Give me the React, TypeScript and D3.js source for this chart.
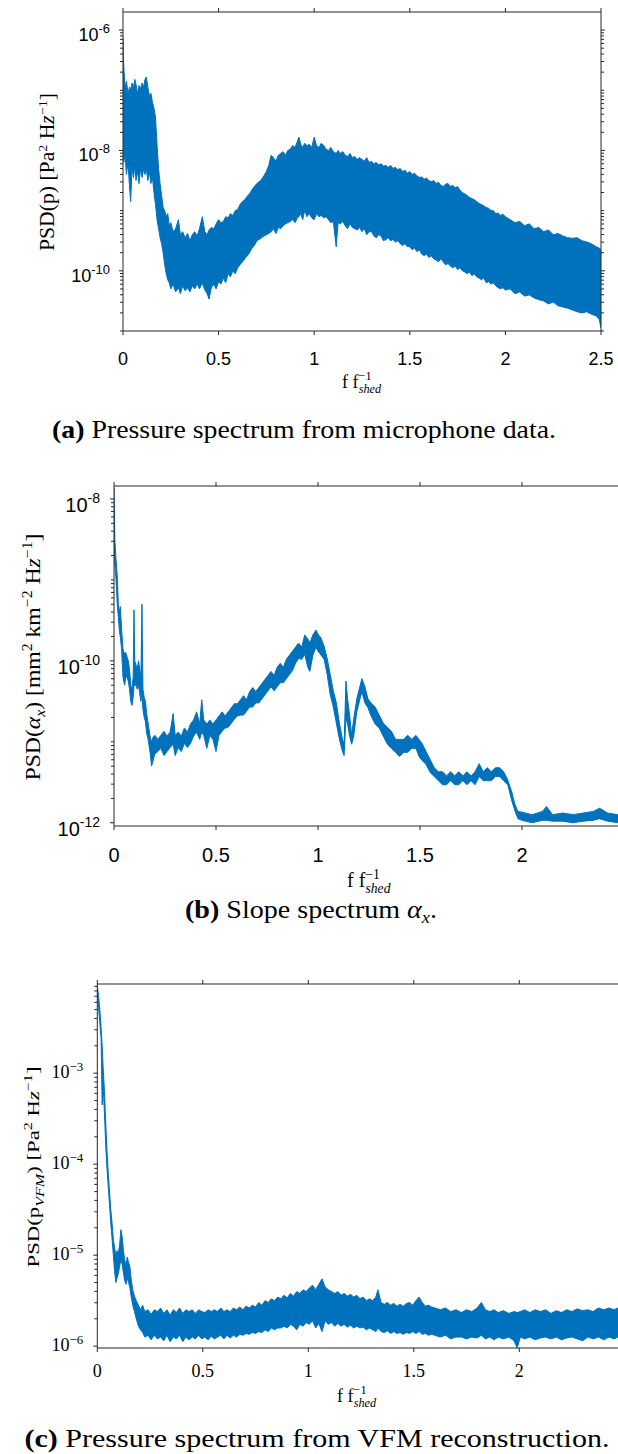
import React from "react";
import * as d3 from "d3";

const BLUE = "#0072BD";
const AXIS = "#262626";
const SANS = "'Liberation Sans', Arial, Helvetica, sans-serif";
const SERIF = "'Liberation Serif', 'Times New Roman', serif";

// (a) Microphone pressure PSD: frequency (f / f_shed) with upper and lower
// envelope of the dense trace, as log10 of PSD [Pa^2 Hz^-1].
const freqA = [0, 0.004, 0.01, 0.018, 0.026, 0.034, 0.04, 0.047, 0.055, 0.062, 0.068, 0.076, 0.084, 0.092, 0.1, 0.108, 0.115, 0.122, 0.13, 0.138, 0.146, 0.154, 0.162, 0.17, 0.178, 0.186, 0.194, 0.202, 0.21, 0.218, 0.226, 0.234, 0.242, 0.25, 0.262, 0.275, 0.29, 0.3, 0.312, 0.325, 0.338, 0.35, 0.362, 0.375, 0.388, 0.4, 0.415, 0.428, 0.44, 0.45, 0.462, 0.475, 0.487, 0.5, 0.512, 0.525, 0.537, 0.55, 0.562, 0.575, 0.587, 0.6, 0.612, 0.625, 0.637, 0.65, 0.662, 0.675, 0.687, 0.7, 0.712, 0.725, 0.737, 0.75, 0.762, 0.775, 0.787, 0.8, 0.812, 0.825, 0.837, 0.85, 0.862, 0.875, 0.887, 0.9, 0.912, 0.92, 0.93, 0.94, 0.95, 0.962, 0.975, 0.987, 1.0, 1.012, 1.025, 1.037, 1.05, 1.062, 1.075, 1.087, 1.1, 1.115, 1.125, 1.137, 1.15, 1.162, 1.175, 1.187, 1.2, 1.212, 1.225, 1.237, 1.25, 1.262, 1.275, 1.287, 1.3, 1.312, 1.325, 1.337, 1.35, 1.362, 1.375, 1.387, 1.4, 1.412, 1.425, 1.437, 1.45, 1.462, 1.475, 1.487, 1.5, 1.512, 1.525, 1.537, 1.55, 1.562, 1.575, 1.587, 1.6, 1.612, 1.625, 1.637, 1.65, 1.662, 1.675, 1.687, 1.7, 1.712, 1.725, 1.737, 1.75, 1.762, 1.775, 1.787, 1.8, 1.812, 1.825, 1.837, 1.85, 1.862, 1.875, 1.887, 1.9, 1.912, 1.925, 1.937, 1.95, 1.962, 1.975, 1.987, 2.0, 2.025, 2.05, 2.075, 2.1, 2.125, 2.15, 2.175, 2.2, 2.225, 2.25, 2.275, 2.3, 2.325, 2.35, 2.375, 2.4, 2.425, 2.45, 2.475, 2.49, 2.5];
const hiA = [-6.12, -6.6, -6.95, -6.85, -7.05, -6.95, -7.0, -6.88, -6.95, -6.82, -6.9, -7.05, -6.92, -6.98, -6.88, -6.95, -6.82, -6.78, -6.95, -7.1, -7.05, -7.2, -7.3, -7.45, -7.9, -8.3, -8.55, -8.75, -8.95, -9.0, -9.1, -9.05, -9.25, -9.2, -9.35, -9.3, -9.15, -9.4, -9.35, -9.45, -9.38, -9.5, -9.4, -9.35, -9.42, -9.3, -9.1, -9.35, -9.4, -9.32, -9.28, -9.3, -9.22, -9.15, -9.2, -9.18, -9.1, -9.12, -9.05, -9.08, -9.0, -8.98, -8.9, -8.85, -8.82, -8.76, -8.72, -8.65, -8.6, -8.55, -8.52, -8.48, -8.42, -8.35, -8.25, -8.08, -8.12, -8.18, -8.08, -8.05, -8.02, -8.08, -8.0, -7.98, -7.92, -7.95, -7.85, -7.78, -7.9, -7.95, -7.88, -7.92, -7.9, -7.95, -7.78, -7.92, -7.95, -7.88, -7.92, -7.98, -8.0, -7.95, -8.02, -8.05, -8.0, -8.05, -8.02, -8.08, -8.1, -8.05, -8.12, -8.1, -8.15, -8.12, -8.15, -8.18, -8.12, -8.2, -8.18, -8.22, -8.2, -8.24, -8.22, -8.26, -8.25, -8.28, -8.25, -8.3, -8.28, -8.32, -8.3, -8.35, -8.33, -8.38, -8.35, -8.4, -8.38, -8.42, -8.45, -8.44, -8.48, -8.46, -8.5, -8.52, -8.5, -8.55, -8.53, -8.58, -8.6, -8.56, -8.55, -8.6, -8.58, -8.62, -8.6, -8.66, -8.7, -8.72, -8.75, -8.78, -8.8, -8.82, -8.85, -8.88, -8.9, -8.92, -8.95, -8.96, -9.0, -9.0, -9.05, -9.04, -9.08, -9.06, -9.1, -9.15, -9.2, -9.18, -9.25, -9.22, -9.3, -9.28, -9.35, -9.32, -9.4, -9.38, -9.42, -9.45, -9.46, -9.45, -9.5, -9.52, -9.55, -9.6, -9.62, -9.65];
const loA = [-7.9, -8.2, -8.05, -8.4, -8.2, -8.6, -8.85, -8.3, -8.45, -8.25, -8.5, -8.35, -8.55, -8.3, -8.45, -8.3, -8.4, -8.3, -8.5, -8.35, -8.55, -8.45, -8.7, -8.9, -9.15, -9.3, -9.45, -9.55, -9.7, -9.9, -10.05, -10.15, -10.2, -10.3, -10.22, -10.35, -10.28, -10.38, -10.25, -10.33, -10.28, -10.35, -10.25, -10.3, -10.22, -10.3, -10.2, -10.32, -10.38, -10.47, -10.28, -10.22, -10.3, -10.18, -10.22, -10.12, -10.2, -10.05, -10.1, -10.0, -10.05, -9.95, -9.9, -9.85, -9.8, -9.75, -9.7, -9.62, -9.58, -9.5, -9.48, -9.45, -9.42, -9.4, -9.38, -9.35, -9.3, -9.38, -9.28, -9.3, -9.25, -9.22, -9.2, -9.18, -9.15, -9.2, -9.12, -9.1, -9.05, -9.15, -9.0, -9.1, -9.05, -9.12, -9.15, -9.05, -9.1, -9.08, -9.12, -9.1, -9.15, -9.2, -9.18, -9.6, -9.2, -9.22, -9.18, -9.25, -9.3, -9.22, -9.28, -9.3, -9.32, -9.28, -9.35, -9.3, -9.4, -9.35, -9.35, -9.42, -9.45, -9.4, -9.42, -9.5, -9.48, -9.45, -9.5, -9.48, -9.52, -9.5, -9.55, -9.58, -9.55, -9.6, -9.6, -9.65, -9.62, -9.68, -9.65, -9.72, -9.75, -9.72, -9.78, -9.75, -9.8, -9.82, -9.85, -9.8, -9.85, -9.9, -9.88, -9.92, -9.95, -9.92, -9.98, -9.95, -10.0, -10.02, -10.05, -10.02, -10.08, -10.05, -10.1, -10.12, -10.15, -10.12, -10.2, -10.18, -10.22, -10.2, -10.25, -10.28, -10.3, -10.28, -10.32, -10.3, -10.38, -10.35, -10.42, -10.4, -10.45, -10.48, -10.5, -10.55, -10.52, -10.58, -10.6, -10.62, -10.65, -10.68, -10.7, -10.68, -10.72, -10.75, -10.8, -10.95];

// (b) Slope PSD of alpha_x, log10 of PSD [mm^2 km^-2 Hz^-1].
const freqB = [0, 0.004, 0.01, 0.016, 0.021, 0.027, 0.031, 0.037, 0.044, 0.048, 0.052, 0.058, 0.064, 0.07, 0.076, 0.082, 0.088, 0.094, 0.098, 0.102, 0.108, 0.114, 0.12, 0.126, 0.132, 0.137, 0.142, 0.148, 0.154, 0.16, 0.166, 0.172, 0.178, 0.184, 0.19, 0.2, 0.215, 0.23, 0.245, 0.26, 0.275, 0.29, 0.3, 0.315, 0.33, 0.345, 0.36, 0.375, 0.39, 0.405, 0.42, 0.43, 0.44, 0.455, 0.47, 0.485, 0.5, 0.515, 0.53, 0.545, 0.56, 0.575, 0.59, 0.605, 0.62, 0.635, 0.65, 0.665, 0.68, 0.695, 0.71, 0.725, 0.74, 0.755, 0.77, 0.785, 0.8, 0.815, 0.83, 0.845, 0.86, 0.875, 0.89, 0.905, 0.92, 0.935, 0.95, 0.96, 0.975, 0.99, 1.0, 1.015, 1.03, 1.045, 1.06, 1.075, 1.09, 1.105, 1.12, 1.128, 1.137, 1.145, 1.155, 1.165, 1.175, 1.19, 1.205, 1.215, 1.23, 1.245, 1.26, 1.28, 1.3, 1.32, 1.34, 1.36, 1.38, 1.4, 1.42, 1.44, 1.46, 1.48, 1.495, 1.51, 1.53, 1.55, 1.57, 1.59, 1.61, 1.63, 1.65, 1.67, 1.69, 1.71, 1.73, 1.75, 1.77, 1.79, 1.81, 1.83, 1.85, 1.87, 1.89, 1.91, 1.93, 1.95, 1.965, 1.98, 2.0, 2.05, 2.1, 2.12, 2.15, 2.2, 2.25, 2.3, 2.35, 2.38, 2.42, 2.47, 2.5];
const hiB = [-7.86, -8.5, -8.75, -8.95, -9.3, -9.4, -9.33, -9.6, -9.85, -9.9, -9.9, -9.9, -9.95, -10.0, -10.1, -10.3, -10.35, -10.2, -9.37, -10.0, -10.05, -10.1, -10.0, -10.1, -10.2, -9.3, -10.35, -10.45, -10.5, -10.65, -10.75, -10.85, -10.95, -11.0, -10.95, -10.92, -10.97, -10.92, -10.87, -10.93, -10.88, -10.65, -10.92, -10.88, -10.93, -10.83, -10.88, -10.78, -10.73, -10.63, -10.78, -10.48, -10.73, -10.78, -10.73, -10.78, -10.73, -10.68, -10.63, -10.68, -10.63, -10.58, -10.53, -10.53, -10.48, -10.43, -10.48, -10.38, -10.33, -10.38, -10.33, -10.28, -10.23, -10.18, -10.13, -10.18, -10.08, -10.03, -10.08, -9.98, -9.93, -9.88, -9.83, -9.78, -9.83, -9.68, -9.73, -9.78, -9.68, -9.62, -9.67, -9.72, -9.82, -9.97, -10.17, -10.37, -10.52, -10.77, -10.97, -11.02, -10.25, -10.47, -10.67, -10.92, -10.72, -10.47, -10.32, -10.22, -10.32, -10.47, -10.52, -10.57, -10.67, -10.77, -10.82, -10.87, -10.97, -10.97, -10.97, -10.92, -10.97, -10.92, -10.97, -11.02, -11.12, -11.22, -11.32, -11.37, -11.37, -11.42, -11.37, -11.42, -11.37, -11.42, -11.37, -11.42, -11.37, -11.27, -11.37, -11.32, -11.37, -11.32, -11.32, -11.37, -11.47, -11.62, -11.77, -11.86, -11.87, -11.9, -11.86, -11.8, -11.9, -11.88, -11.9, -11.88, -11.86, -11.82, -11.88, -11.9, -11.9];
const loB = [-8.3, -8.8, -9.0, -9.3, -9.45, -9.65, -9.7, -9.85, -10.2, -10.25, -10.3, -10.2, -10.2, -10.25, -10.35, -10.5, -10.55, -10.45, -10.3, -10.3, -10.3, -10.35, -10.3, -10.4, -10.5, -10.4, -10.6, -10.7, -10.75, -10.9, -10.95, -11.05, -11.15, -11.3, -11.25, -11.15, -11.12, -11.08, -11.17, -11.12, -11.07, -11.03, -11.17, -11.07, -11.12, -11.02, -11.07, -11.02, -10.93, -10.88, -10.97, -10.88, -10.92, -11.08, -10.92, -10.97, -11.12, -10.92, -10.87, -10.83, -10.82, -10.77, -10.72, -10.68, -10.67, -10.67, -10.62, -10.57, -10.57, -10.52, -10.52, -10.47, -10.42, -10.37, -10.32, -10.37, -10.32, -10.27, -10.27, -10.22, -10.17, -10.12, -10.03, -9.97, -9.98, -9.92, -10.08, -10.13, -9.93, -9.83, -9.88, -9.93, -9.98, -10.17, -10.42, -10.57, -10.77, -10.97, -11.12, -11.17, -10.7, -10.78, -10.93, -11.03, -10.93, -10.63, -10.48, -10.38, -10.52, -10.58, -10.68, -10.78, -10.83, -10.93, -11.03, -11.08, -11.13, -11.18, -11.13, -11.13, -11.08, -11.08, -11.18, -11.23, -11.28, -11.38, -11.43, -11.48, -11.53, -11.53, -11.48, -11.53, -11.53, -11.48, -11.53, -11.48, -11.53, -11.43, -11.48, -11.48, -11.48, -11.43, -11.43, -11.48, -11.53, -11.73, -11.85, -11.95, -11.97, -12.0, -11.97, -11.97, -11.98, -11.98, -12.0, -11.98, -11.97, -11.95, -11.98, -12.0, -12.0];

// (c) VFM-reconstructed pressure PSD, log10 of PSD [Pa^2 Hz^-1].
const freqC = [0, 0.006, 0.012, 0.018, 0.023, 0.028, 0.034, 0.04, 0.046, 0.052, 0.058, 0.064, 0.07, 0.076, 0.082, 0.088, 0.094, 0.1, 0.106, 0.112, 0.118, 0.124, 0.13, 0.136, 0.142, 0.148, 0.154, 0.16, 0.168, 0.176, 0.185, 0.195, 0.205, 0.215, 0.225, 0.24, 0.255, 0.27, 0.285, 0.3, 0.315, 0.33, 0.345, 0.36, 0.375, 0.39, 0.405, 0.42, 0.435, 0.45, 0.465, 0.48, 0.495, 0.51, 0.525, 0.54, 0.555, 0.57, 0.585, 0.6, 0.615, 0.63, 0.645, 0.66, 0.675, 0.69, 0.705, 0.72, 0.735, 0.75, 0.765, 0.78, 0.795, 0.81, 0.825, 0.84, 0.855, 0.87, 0.885, 0.9, 0.915, 0.93, 0.945, 0.96, 0.975, 0.99, 1.005, 1.02, 1.035, 1.05, 1.065, 1.08, 1.095, 1.11, 1.125, 1.14, 1.155, 1.17, 1.185, 1.2, 1.215, 1.23, 1.245, 1.26, 1.275, 1.29, 1.305, 1.32, 1.33, 1.345, 1.36, 1.375, 1.39, 1.405, 1.42, 1.435, 1.45, 1.465, 1.48, 1.495, 1.51, 1.525, 1.54, 1.555, 1.57, 1.585, 1.6, 1.625, 1.65, 1.675, 1.7, 1.725, 1.75, 1.775, 1.8, 1.82, 1.84, 1.86, 1.88, 1.9, 1.925, 1.95, 1.975, 1.99, 2.005, 2.025, 2.05, 2.075, 2.1, 2.125, 2.15, 2.175, 2.2, 2.225, 2.25, 2.275, 2.3, 2.325, 2.35, 2.375, 2.4, 2.425, 2.45, 2.475, 2.5];
const hiC = [-2.04, -2.15, -2.3, -2.5, -2.7, -2.95, -3.2, -3.55, -3.85, -4.1, -4.3, -4.5, -4.65, -4.82, -4.92, -5.0, -4.95, -4.98, -4.88, -4.72, -4.8, -4.95, -5.05, -5.12, -5.02, -5.08, -5.12, -5.25, -5.38, -5.45, -5.5, -5.55, -5.6, -5.55, -5.62, -5.6, -5.65, -5.6, -5.62, -5.58, -5.64, -5.6, -5.66, -5.6, -5.63, -5.58, -5.64, -5.6, -5.62, -5.6, -5.64, -5.6, -5.62, -5.63, -5.6, -5.62, -5.6, -5.62, -5.58, -5.62, -5.6, -5.62, -5.58, -5.6, -5.57, -5.6, -5.56, -5.58, -5.55, -5.57, -5.52, -5.55, -5.5, -5.52, -5.48, -5.5, -5.46, -5.48, -5.44, -5.47, -5.42, -5.45, -5.4, -5.42, -5.38, -5.4, -5.36, -5.33, -5.38, -5.32, -5.26, -5.35, -5.38, -5.4, -5.42, -5.4, -5.44, -5.42, -5.45, -5.43, -5.46, -5.44, -5.48, -5.46, -5.5, -5.48, -5.5, -5.46, -5.38, -5.52, -5.54, -5.52, -5.55, -5.53, -5.56, -5.54, -5.56, -5.53, -5.52, -5.55, -5.5, -5.46, -5.52, -5.56, -5.55, -5.57, -5.58, -5.6, -5.58, -5.62, -5.6, -5.63, -5.6, -5.62, -5.58, -5.52, -5.6, -5.62, -5.6, -5.63, -5.61, -5.64, -5.62, -5.63, -5.62, -5.6, -5.63, -5.6, -5.62, -5.6, -5.64, -5.61, -5.63, -5.6, -5.62, -5.59, -5.61, -5.6, -5.62, -5.58, -5.6, -5.58, -5.6, -5.57, -5.6];
const loC = [-2.1, -2.28, -2.45, -2.62, -3.35, -3.15, -3.45, -3.8, -4.05, -4.25, -4.45, -4.65, -4.82, -5.0, -5.18, -5.3, -5.25, -5.2, -5.12, -5.05, -5.1, -5.2, -5.28, -5.32, -5.25, -5.3, -5.35, -5.45, -5.55, -5.62, -5.7, -5.78, -5.82, -5.85, -5.9, -5.88, -5.93, -5.88, -5.92, -5.9, -5.94, -5.88, -5.95, -5.9, -5.92, -5.88, -5.95, -5.9, -5.93, -5.9, -5.92, -5.88, -5.92, -5.9, -5.93, -5.89, -5.92, -5.9, -5.88, -5.92, -5.88, -5.91, -5.88, -5.9, -5.87, -5.88, -5.86, -5.87, -5.85, -5.86, -5.84, -5.85, -5.82, -5.84, -5.8, -5.82, -5.8, -5.8, -5.78, -5.8, -5.76, -5.78, -5.82, -5.76, -5.78, -5.74, -5.76, -5.72, -5.8, -5.75, -5.84, -5.72, -5.76, -5.74, -5.78, -5.75, -5.78, -5.76, -5.79, -5.77, -5.8, -5.78, -5.8, -5.79, -5.82, -5.8, -5.82, -5.84, -5.8, -5.84, -5.85, -5.83, -5.86, -5.84, -5.86, -5.85, -5.87, -5.85, -5.86, -5.84, -5.86, -5.84, -5.87, -5.86, -5.88, -5.87, -5.88, -5.9, -5.88, -5.92, -5.9, -5.9, -5.92, -5.9, -5.91, -5.88, -5.92, -5.9, -5.93, -5.9, -5.92, -5.9, -5.94, -6.02, -5.9, -5.92, -5.9, -5.93, -5.91, -5.9, -5.92, -5.9, -5.93, -5.91, -5.9, -5.92, -5.94, -5.9, -5.92, -5.9, -5.93, -5.9, -5.92, -5.89, -5.9];

const xTickValues = [0, 0.5, 1, 1.5, 2, 2.5];
const xTickLabels = ["0", "0.5", "1", "1.5", "2", "2.5"];

type PanelProps = {
  left: number; unit: number; top: number; bottom: number;
  yLoExp: number; yHiExp: number;
  freq: number[]; hi: number[]; lo: number[];
  labelExps: number[];
  tex: boolean; tickFont: number; supFont: number;
  yLabelGap: number; yLabelDrop: number; supRaise: number; xLabelDrop: number;
  rightAxis: boolean; clipId: string; strokeW: number;
};

function Panel(p: PanelProps) {
  const x = d3.scaleLinear().domain([0, 2.5]).range([p.left, p.left + 2.5 * p.unit]);
  const y = d3.scaleLog().domain([10 ** p.yLoExp, 10 ** p.yHiExp]).range([p.bottom, p.top]);
  const right = x(2.5);
  const pts = p.freq.map((f, i) => ({ f, hi: 10 ** p.hi[i], lo: 10 ** p.lo[i] }));
  const area = d3.area<any>().x(d => x(d.f)).y0(d => y(d.lo)).y1(d => y(d.hi));
  const hiLine = d3.line<any>().x(d => x(d.f)).y(d => y(d.hi));
  const loLine = d3.line<any>().x(d => x(d.f)).y(d => y(d.lo));

  const yTicks: { v: number; major: boolean }[] = [];
  for (let e = Math.floor(p.yLoExp); e <= Math.ceil(p.yHiExp); e++) {
    for (let k = 1; k <= 9; k++) {
      const v = k * 10 ** e;
      if (v >= 10 ** p.yLoExp * 0.999 && v <= 10 ** p.yHiExp * 1.001) {
        yTicks.push({ v, major: k === 1 && p.labelExps.includes(e) });
      }
    }
  }
  const xt = xTickValues.filter(v => x(v) <= 612);
  const tickFamily = p.tex ? SERIF : SANS;

  return (
    <g>
      <defs>
        <clipPath id={p.clipId}>
          <rect x={p.left} y={p.top - 1} width={right - p.left} height={p.bottom - p.top + 2} />
        </clipPath>
      </defs>
      <g clipPath={`url(#${p.clipId})`}>
        <path d={area(pts) || ""} fill={BLUE} stroke="none" />
        <path d={hiLine(pts) || ""} fill="none" stroke={BLUE} strokeWidth={p.strokeW} />
        <path d={loLine(pts) || ""} fill="none" stroke={BLUE} strokeWidth={p.strokeW} />
      </g>
      <g stroke={AXIS} strokeWidth={1} fill="none">
        <line x1={p.left} x2={right} y1={p.top} y2={p.top} />
        <line x1={p.left} x2={right} y1={p.bottom} y2={p.bottom} />
        <line x1={p.left} x2={p.left} y1={p.top} y2={p.bottom} />
        {p.rightAxis && <line x1={right} x2={right} y1={p.top} y2={p.bottom} />}
        {xt.map(v => (
          <g key={v}>
            <line x1={x(v)} x2={x(v)} y1={p.bottom} y2={p.bottom + 4} />
            <line x1={x(v)} x2={x(v)} y1={p.top} y2={p.top - 4} />
          </g>
        ))}
        {yTicks.map((t, i) => (
          <g key={i}>
            <line x1={p.left} x2={p.left - (t.major ? 4 : 3)} y1={y(t.v)} y2={y(t.v)} />
            {p.rightAxis && <line x1={right} x2={right + (t.major ? 4 : 3)} y1={y(t.v)} y2={y(t.v)} />}
          </g>
        ))}
      </g>
      {xt.map(v => (
        <text key={v} x={x(v)} y={p.bottom + p.xLabelDrop} textAnchor="middle"
          fontFamily={tickFamily} fontSize={p.tickFont} fill="#000">
          {xTickLabels[xTickValues.indexOf(v)]}
        </text>
      ))}
      {p.labelExps.map(e => (
        <text key={e} x={p.left - p.yLabelGap} y={y(10 ** e) + p.yLabelDrop} textAnchor="end"
          fontFamily={tickFamily} fontSize={p.tickFont} fill="#000">
          10<tspan fontSize={p.supFont} dy={-p.supRaise}>{p.tex ? `\u2212${-e}` : `-${-e}`}</tspan>
        </text>
      ))}
    </g>
  );
}

function XLabel({ x, y, size }: { x: number; y: number; size: number }) {
  const s = size * 0.68;
  return (
    <text x={x} y={y} fontFamily={SERIF} fontSize={size} fill="#000">
      f f
      <tspan fontSize={s} dy={-size * 0.42}>{"\u22121"}</tspan>
      <tspan fontSize={s} fontStyle="italic" dx={-s * 1.05} dy={size * 0.72}>shed</tspan>
    </text>
  );
}

export default function App() {
  const W = 618, H = 1454;
  return (
    <svg width={W} height={H} viewBox={`0 0 ${W} ${H}`}
      style={{ position: "absolute", left: 0, top: 0, display: "block", background: "#fff" }}>
      <rect width={W} height={H} fill="#fff" />

      {/* (a) microphone pressure spectrum */}
      <Panel left={123} unit={191.2} top={12} bottom={331} yLoExp={-11} yHiExp={-5.7}
        freq={freqA} hi={hiA} lo={loA} labelExps={[-6, -8, -10]} tex={false}
        tickFont={18} supFont={13} yLabelGap={13} yLabelDrop={11} supRaise={8} xLabelDrop={34}
        rightAxis={true} clipId="clipA" strokeW={1} />
      <text transform="translate(54,172) rotate(-90)" textAnchor="middle" fontFamily={SERIF} fontSize={20}
        textLength={158} lengthAdjust="spacingAndGlyphs" fill="#000">
        PSD(p) [Pa<tspan fontSize={13} dy={-7}>2</tspan><tspan dy={7}> H</tspan><tspan fontStyle="italic">z</tspan><tspan fontSize={13} dy={-7}>{"\u22121"}</tspan><tspan dy={7}>]</tspan>
      </text>
      <XLabel x={342} y={388} size={18} />
      <text x={304} y={438} textAnchor="middle" fontFamily={SERIF} fontSize={26}
        textLength={504} lengthAdjust="spacingAndGlyphs" fill="#000">
        <tspan fontWeight="bold">(a)</tspan> Pressure spectrum from microphone data.
      </text>

      {/* (b) slope spectrum */}
      <Panel left={114} unit={204} top={486} bottom={826} yLoExp={-12.04} yHiExp={-7.84}
        freq={freqB} hi={hiB} lo={loB} labelExps={[-8, -10, -12]} tex={false}
        tickFont={20} supFont={14} yLabelGap={14} yLabelDrop={13} supRaise={9} xLabelDrop={36}
        rightAxis={false} clipId="clipB" strokeW={1} />
      <text transform="translate(40,657) rotate(-90)" textAnchor="middle" fontFamily={SERIF} fontSize={21}
        textLength={247} lengthAdjust="spacingAndGlyphs" fill="#000">
        PSD(<tspan fontStyle="italic">α</tspan><tspan fontStyle="italic" fontSize={14} dy={5}>x</tspan><tspan dy={-5}>) [mm</tspan><tspan fontSize={14} dy={-8}>2</tspan><tspan dy={8}> km</tspan><tspan fontSize={14} dy={-8}>{"\u22122"}</tspan><tspan dy={8}> H</tspan><tspan fontStyle="italic">z</tspan><tspan fontSize={14} dy={-8}>{"\u22121"}</tspan><tspan dy={8}>]</tspan>
      </text>
      <XLabel x={347} y={887} size={20} />
      <text x={311} y={918} textAnchor="middle" fontFamily={SERIF} fontSize={26}
        textLength={252} lengthAdjust="spacingAndGlyphs" fill="#000">
        <tspan fontWeight="bold">(b)</tspan> Slope spectrum <tspan fontStyle="italic">α</tspan><tspan fontStyle="italic" fontSize={17} dy={5}>x</tspan><tspan dy={-5}>.</tspan>
      </text>

      {/* (c) VFM reconstruction spectrum */}
      <Panel left={97.3} unit={211} top={984} bottom={1348} yLoExp={-6.02} yHiExp={-2.02}
        freq={freqC} hi={hiC} lo={loC} labelExps={[-3, -4, -5, -6]} tex={true}
        tickFont={18} supFont={13} yLabelGap={14} yLabelDrop={5} supRaise={7} xLabelDrop={29}
        rightAxis={false} clipId="clipC" strokeW={1} />
      <text transform="translate(39,1167) rotate(-90)" textAnchor="middle" fontFamily={SERIF} fontSize={17}
        textLength={201} lengthAdjust="spacingAndGlyphs" fill="#000">
        PSD(p<tspan fontStyle="italic" fontSize={12} dy={5}>VFM</tspan><tspan dy={-5}>) [Pa</tspan><tspan fontSize={12} dy={-7}>2</tspan><tspan dy={7}> H</tspan><tspan fontStyle="italic">z</tspan><tspan fontSize={12} dy={-7}>{"\u22121"}</tspan><tspan dy={7}>]</tspan>
      </text>
      <XLabel x={337} y={1402} size={18} />
      <text x={317} y={1447} textAnchor="middle" fontFamily={SERIF} fontSize={26}
        textLength={585} lengthAdjust="spacingAndGlyphs" fill="#000">
        <tspan fontWeight="bold">(c)</tspan> Pressure spectrum from VFM reconstruction.
      </text>
    </svg>
  );
}
